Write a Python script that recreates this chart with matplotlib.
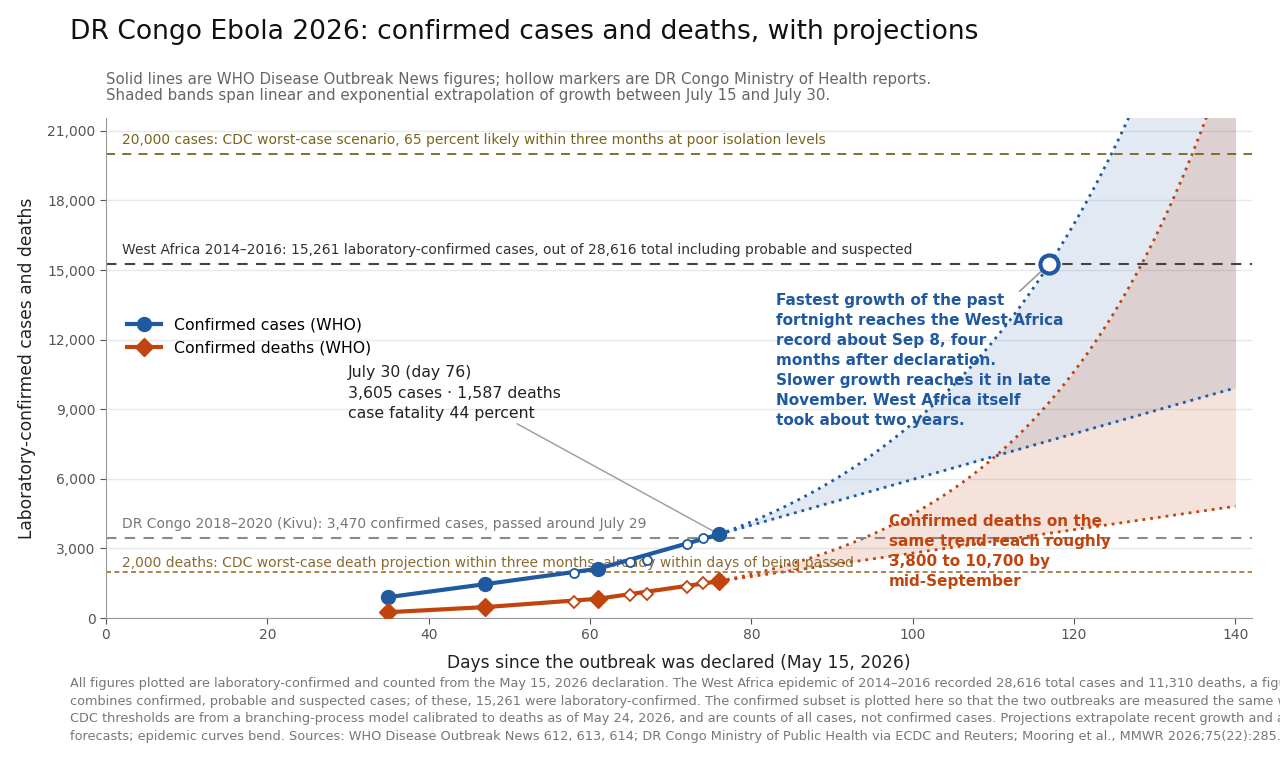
import numpy as np
import matplotlib
matplotlib.use("Agg")
import matplotlib.pyplot as plt

# WHO Disease Outbreak News (solid)
who_days = [35, 47, 61, 76]
who_cases = [900, 1460, 2125, 3605]
who_deaths = [250, 470, 830, 1587]

# DR Congo Ministry of Health reports (hollow)
moh_days = [58, 65, 67, 72, 74]
moh_cases = [1940, 2410, 2500, 3190, 3450]
moh_deaths = [690, 990, 1035, 1340, 1510]

# reference thresholds
west_africa_cases = 15261
cdc_cases = 20000
kivu_cases = 3470
cdc_deaths = 2000

BLUE = "#1f5aa0"
ORANGE = "#c1440e"

# projections: linear and exponential growth between day 61 (July 15) and day 76 (July 30)
d0, d1 = 61, 76
proj_days = np.linspace(d1, 140, 200)


def projections(v0, v1):
    slope = (v1 - v0) / (d1 - d0)
    rate = np.log(v1 / v0) / (d1 - d0)
    lin = v1 + slope * (proj_days - d1)
    exp = v1 * np.exp(rate * (proj_days - d1))
    return lin, exp, rate


c_lin, c_exp, c_rate = projections(who_cases[2], who_cases[3])
d_lin, d_exp, d_rate = projections(who_deaths[2], who_deaths[3])
cross_day = d1 + np.log(west_africa_cases / who_cases[3]) / c_rate

fig = plt.figure(figsize=(12.8, 7.68), dpi=100)
ax = fig.add_axes([0.0828, 0.1953, 0.895, 0.651])

# bands
dots = (0, (1, 1.8))
ax.fill_between(proj_days, c_lin, c_exp, color=BLUE, alpha=0.13, lw=0)
ax.fill_between(proj_days, d_lin, d_exp, color=ORANGE, alpha=0.15, lw=0)
ax.plot(proj_days, c_lin, ls=dots, color=BLUE, lw=2)
ax.plot(proj_days, c_exp, ls=dots, color=BLUE, lw=2)
ax.plot(proj_days, d_lin, ls=dots, color=ORANGE, lw=2)
ax.plot(proj_days, d_exp, ls=dots, color=ORANGE, lw=2)

# reference lines
ax.axhline(cdc_cases, color="#7a6420", ls=(0, (5, 4)), lw=1.3)
ax.axhline(west_africa_cases, color="#444444", ls=(0, (5, 4)), lw=1.5)
ax.axhline(kivu_cases, color="#8a8a8a", ls=(0, (5, 4)), lw=1.5)
ax.axhline(cdc_deaths, color="#a07030", ls=(0, (3, 2)), lw=1.2)

ax.text(2, cdc_cases + 320, "20,000 cases: CDC worst-case scenario, 65 percent likely within three months at poor isolation levels",
        color="#7a6420", fontsize=10, va="bottom")
ax.text(2, west_africa_cases + 320, "West Africa 2014\u20132016: 15,261 laboratory-confirmed cases, out of 28,616 total including probable and suspected",
        color="#333333", fontsize=10, va="bottom")
ax.text(2, kivu_cases + 280, "DR Congo 2018\u20132020 (Kivu): 3,470 confirmed cases, passed around July 29",
        color="#777777", fontsize=10, va="bottom")
ax.text(2, cdc_deaths + 60, "2,000 deaths: CDC worst-case death projection within three months, already within days of being passed",
        color="#8a6a30", fontsize=10, va="bottom")

# observed data
ax.plot(who_days, who_cases, color=BLUE, lw=3, marker="o", ms=10, label="Confirmed cases (WHO)", zorder=5)
ax.plot(who_days, who_deaths, color=ORANGE, lw=3, marker="D", ms=9, label="Confirmed deaths (WHO)", zorder=5)
ax.plot(moh_days, moh_cases, ls="none", marker="o", ms=6.5, mfc="white", mec=BLUE, mew=1.3, zorder=6)
ax.plot(moh_days, moh_deaths, ls="none", marker="D", ms=6.5, mfc="white", mec=ORANGE, mew=1.3, zorder=6)

# crossing marker
ax.plot([cross_day], [west_africa_cases], marker="o", ms=13, mfc="white", mec=BLUE, mew=3, zorder=7)
ax.annotate("", xy=(cross_day - 0.5, west_africa_cases - 150), xytext=(113, 14000),
            arrowprops=dict(arrowstyle="-", color="#999999", lw=1.2))

ax.annotate("July 30 (day 76)\n3,605 cases \u00b7 1,587 deaths\ncase fatality 44 percent",
            xy=(who_days[3], who_cases[3]), xytext=(30, 10900), fontsize=11.3, color="#222222",
            va="top", linespacing=1.45,
            arrowprops=dict(arrowstyle="-", color="#999999", lw=1, shrinkA=0, shrinkB=5,
                            relpos=(0.77, 0)))

ax.text(83, 14000, "Fastest growth of the past\nfortnight reaches the West Africa\nrecord about Sep 8, four\n"
        "months after declaration.\nSlower growth reaches it in late\nNovember. West Africa itself\ntook about two years.",
        color=BLUE, fontsize=11, fontweight="bold", va="top", linespacing=1.42)
ax.text(97, 4500, "Confirmed deaths on the\nsame trend reach roughly\n3,800 to 10,700 by\nmid-September",
        color=ORANGE, fontsize=11, fontweight="bold", va="top", linespacing=1.44)

ax.set_xlim(0, 142)
ax.set_ylim(0, 21550)
ax.set_xticks([0, 20, 40, 60, 80, 100, 120, 140])
ax.set_yticks(np.arange(0, 21001, 3000))
ax.yaxis.set_major_formatter(matplotlib.ticker.FuncFormatter(lambda v, p: f"{int(v):,}"))
ax.grid(axis="y", color="#e8e8e8", lw=1)
ax.set_axisbelow(True)
for s in ["top", "right"]:
    ax.spines[s].set_visible(False)
for s in ["left", "bottom"]:
    ax.spines[s].set_color("#999999")
ax.tick_params(colors="#555555", labelsize=10, length=4)
ax.set_xlabel("Days since the outbreak was declared (May 15, 2026)", fontsize=12.3, color="#222222", labelpad=8)
ax.set_ylabel("Laboratory-confirmed cases and deaths", fontsize=12.3, color="#222222", labelpad=8)

ax.legend(loc="upper left", bbox_to_anchor=(0.01, 0.62), frameon=False, fontsize=11.3,
          handlelength=2.2, borderaxespad=0.2, labelspacing=0.5)

fig.text(0.0547, 0.958, "DR Congo Ebola 2026: confirmed cases and deaths, with projections",
         fontsize=19.1, color="#111111", va="center")
fig.text(0.0828, 0.886, "Solid lines are WHO Disease Outbreak News figures; hollow markers are DR Congo Ministry of Health reports.\n"
         "Shaded bands span linear and exponential extrapolation of growth between July 15 and July 30.",
         fontsize=10.8, color="#666666", va="center", linespacing=1.15)
fig.text(0.0547, 0.033,
         "All figures plotted are laboratory-confirmed and counted from the May 15, 2026 declaration. The West Africa epidemic of 2014\u20132016 recorded 28,616 total cases and 11,310 deaths, a figure that\n"
         "combines confirmed, probable and suspected cases; of these, 15,261 were laboratory-confirmed. The confirmed subset is plotted here so that the two outbreaks are measured the same way.\n"
         "CDC thresholds are from a branching-process model calibrated to deaths as of May 24, 2026, and are counts of all cases, not confirmed cases. Projections extrapolate recent growth and are not\n"
         "forecasts; epidemic curves bend. Sources: WHO Disease Outbreak News 612, 613, 614; DR Congo Ministry of Public Health via ECDC and Reuters; Mooring et al., MMWR 2026;75(22):285.",
         fontsize=9.3, color="#777777", va="bottom", linespacing=1.45)

fig.savefig("out.png", dpi=100)
